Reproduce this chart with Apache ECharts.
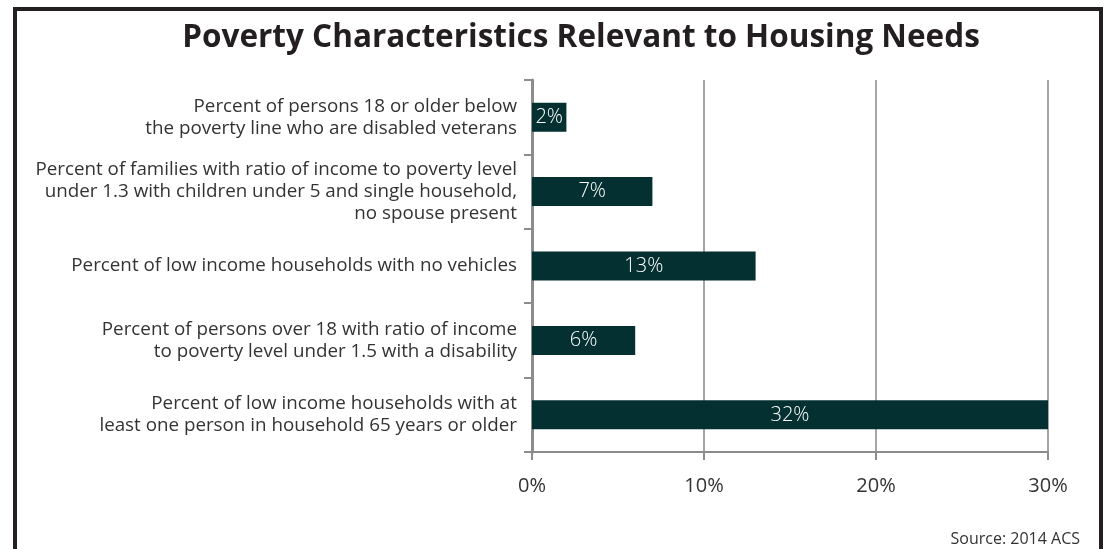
<!DOCTYPE html>
<html>
<head>
<meta charset="utf-8">
<script src="https://cdn.jsdelivr.net/npm/echarts@6/dist/echarts.min.js"></script>
<style>
  html, body { margin: 0; padding: 0; background: #fff; }
  #frame { position: absolute; left: 13px; top: 7px; width: 1082px; height: 560px;
           border: 4px solid #231f20; box-sizing: content-box; }
  #chart { position: absolute; left: 0; top: 0; width: 1107px; height: 549px; }
</style>
</head>
<body>
<div id="frame"></div>
<div id="chart"></div>
<script>
var categories = [
	'Percent of persons 18 or older below\nthe poverty line who are disabled veterans',
	'Percent of families with ratio of income to poverty level\nunder 1.3 with children under 5 and single household,\nno spouse present',
	'Percent of low income households with no vehicles',
	'Percent of persons over 18 with ratio of income\nto poverty level under 1.5 with a disability',
	'Percent of low income households with at\nleast one person in household 65 years or older'
];
var values = [2, 7, 13, 6, 32];
var tickLabels = ['0%', '10%', '20%', '30%'];

var chart = echarts.init(document.getElementById('chart'));
var option = {
	title: [{
		text: 'Poverty Characteristics Relevant to Housing Needs',
		left: 581,
		textAlign: 'center',
		top: 22,
		padding: 0,
		textStyle: { fontFamily: 'Open Sans', fontWeight: 'bold', fontSize: 31.5, color: '#231f20' }
	}, {
		text: 'Source: 2014 ACS',
		right: 27,
		top: 531,
		padding: 0,
		textStyle: { fontFamily: 'Open Sans', fontWeight: 'normal', fontSize: 16, color: '#333' }
	}],
	grid: { left: 532, right: 59, top: 80, bottom: 97 },
	xAxis: {
		type: 'value',
		min: 0,
		max: 30,
		interval: 10,
		axisLine: { show: true, lineStyle: { color: '#8c8c8c', width: 2 } },
		axisTick: { show: true, length: 8, lineStyle: { color: '#8c8c8c', width: 2 } },
		splitLine: { show: true, lineStyle: { color: '#a6a6a6', width: 2 } },
		axisLabel: {
			margin: 24,
			fontFamily: 'Open Sans',
			fontSize: 20,
			color: '#333',
			formatter: function (v) { return tickLabels[v / 10]; }
		}
	},
	yAxis: {
		type: 'category',
		inverse: true,
		data: categories,
		axisLine: { show: true, lineStyle: { color: '#8c8c8c', width: 3 } },
		axisTick: { show: true, length: 8, lineStyle: { color: '#8c8c8c', width: 2 } },
		axisLabel: {
			margin: 15,
			fontFamily: 'Open Sans',
			fontSize: 18.8,
			lineHeight: 22,
			color: '#333',
			align: 'right'
		}
	},
	series: [{
		type: 'bar',
		data: values,
		barWidth: 29,
		clip: true,
		itemStyle: { color: '#043031' },
		label: {
			show: true,
			position: 'inside',
			formatter: '{c}%',
			fontFamily: 'Open Sans',
			fontSize: 20,
			fontWeight: 300,
			color: '#fff'
		}
	}]
};
chart.setOption(option);
</script>
</body>
</html>
